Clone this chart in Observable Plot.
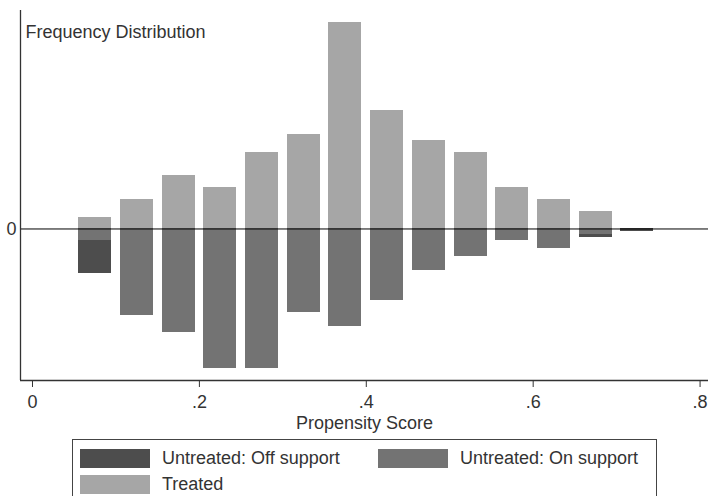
<!DOCTYPE html>
<html>
<head>
<meta charset="utf-8">
<script src="https://cdn.jsdelivr.net/npm/d3@7"></script>
<script src="https://cdn.jsdelivr.net/npm/@observablehq/plot@0.6"></script>
<style>
  html, body { margin: 0; padding: 0; background: #fff; }
  body { width: 708px; height: 496px; overflow: hidden; position: relative; font-family: "Liberation Sans", Arial, sans-serif; }
  #legend { position: absolute; left: 72px; top: 439px; width: 583px; height: 80px; border: 1px solid #444; box-sizing: content-box; }
  .item { position: absolute; display: flex; align-items: center; font-size: 18px; color: #333; white-space: nowrap; }
  .sw { width: 70px; height: 19px; margin-right: 12px; }
</style>
</head>
<body>
<div id="chart"></div>
<div id="legend"></div>
<script>
// ---- data ----
const binStart = [0.05, 0.10, 0.15, 0.20, 0.25, 0.30, 0.35, 0.40, 0.45, 0.50, 0.55, 0.60, 0.65, 0.70];
const treated = [2, 5, 9, 7, 13, 16, 35, 20, 15, 13, 7, 5, 3, 0];
const untreatedOn = [1.9, 14.7, 17.5, 23.6, 23.6, 14.1, 16.5, 12.2, 7.0, 4.6, 1.9, 3.25, 0.93, 0];
const untreatedOff = [5.64, 0, 0, 0, 0, 0, 0, 0, 0, 0, 0, 0, 0.51, 0.5];
const seriesNames = ["Untreated: Off support", "Untreated: On support", "Treated"];
const seriesColors = ["#4d4d4d", "#737373", "#a6a6a6"];
const xTicks = [0, 0.2, 0.4, 0.6, 0.8];
const xTickLabels = ["0", ".2", ".4", ".6", ".8"];
const yTicks = [0];
const yTickLabels = ["0"];
const xTitle = "Propensity Score";
const yTitle = "Frequency Distribution";
const binWidth = 0.05;

// ---- table ----
const rows = [];
binStart.forEach((b, i) => {
  rows.push({x1: b, x2: b + binWidth, y1: 0, y2: treated[i], series: seriesNames[2]});
  rows.push({x1: b, x2: b + binWidth, y1: 0, y2: -untreatedOn[i], series: seriesNames[1]});
  rows.push({x1: b, x2: b + binWidth, y1: -untreatedOn[i], y2: -(untreatedOn[i] + untreatedOff[i]), series: seriesNames[0]});
});

const xDomain = [-0.01438, 0.8101];
const yDomain = [-25.68, 37.03];

const chart = Plot.plot({
  width: 708,
  height: 438,
  marginLeft: 20,
  marginRight: 0,
  marginTop: 10,
  marginBottom: 58,
  style: {fontFamily: "'Liberation Sans', Arial, sans-serif", fontSize: "18px", color: "#333", background: "#fff"},
  x: {domain: xDomain},
  y: {domain: yDomain},
  color: {domain: seriesNames, range: seriesColors},
  marks: [
    Plot.rect(rows.filter(d => d.y1 !== d.y2), {x1: "x1", x2: "x2", y1: "y1", y2: "y2", fill: "series", insetLeft: 4.35, insetRight: 4.35, shapeRendering: "crispEdges"}),
    Plot.ruleY([0], {stroke: "#000", strokeWidth: 1}),
    Plot.ruleX([xDomain[0]], {stroke: "#333", strokeWidth: 1.3}),
    Plot.ruleY([yDomain[0]], {stroke: "#333", strokeWidth: 1.3}),
    Plot.axisX(xTicks, {tickSize: 7, tickPadding: 7.5, fontSize: 18, stroke: "#333", tickFormat: d => xTickLabels[xTicks.indexOf(d)], label: null}),
    Plot.axisY(yTicks, {tickSize: 0, tickPadding: 4, fontSize: 18, tickFormat: d => yTickLabels[yTicks.indexOf(d)], label: null}),
    Plot.text([yTitle], {text: d => d, frameAnchor: "top-left", dx: 5, dy: 15, lineAnchor: "top", textAnchor: "start", fontSize: 18, fill: "#333"}),
    Plot.text([xTitle], {text: d => d, frameAnchor: "bottom", dy: 42.5, lineAnchor: "middle", fontSize: 18, fill: "#333"})
  ]
});
document.getElementById("chart").appendChild(chart);

// ---- legend ----
const legend = document.getElementById("legend");
const pos = [{left: 7, top: 8}, {left: 305, top: 8}, {left: 7, top: 34}];
seriesNames.forEach((name, i) => {
  const it = document.createElement("div");
  it.className = "item";
  it.style.left = pos[i].left + "px";
  it.style.top = pos[i].top + "px";
  const sw = document.createElement("div");
  sw.className = "sw";
  sw.style.background = seriesColors[i];
  const tx = document.createElement("span");
  tx.textContent = name;
  it.appendChild(sw);
  it.appendChild(tx);
  legend.appendChild(it);
});
</script>
</body>
</html>
